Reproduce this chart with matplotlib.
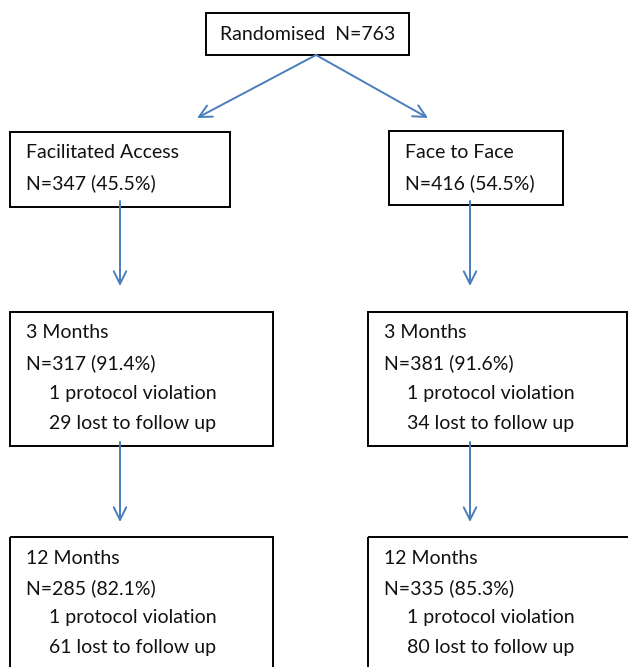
"""
CONSORT-style flow diagram: randomisation to 12 month follow up.
"""

import matplotlib
matplotlib.use("Agg")
import matplotlib.pyplot as plt
from matplotlib.patches import Rectangle

plt.rcParams["font.family"] = ["Lato", "DejaVu Sans"]

# --- data -------------------------------------------------------------
randomised_label = "Randomised  N=763"
arms = ["Facilitated Access", "Face to Face"]
arm_n = ["N=347 (45.5%)", "N=416 (54.5%)"]
stage_names = ["3 Months", "12 Months"]
stage_n = [["N=317 (91.4%)", "N=381 (91.6%)"],
           ["N=285 (82.1%)", "N=335 (85.3%)"]]
violations = [["1 protocol violation", "1 protocol violation"],
              ["1 protocol violation", "1 protocol violation"]]
lost = [["29 lost to follow up", "34 lost to follow up"],
        ["61 lost to follow up", "80 lost to follow up"]]

ARROW = "#4a7ebb"
FS = 14


def box(ax, x0, y0, x1, y1):
    ax.add_patch(Rectangle((x0, y0), x1 - x0, y1 - y0, fill=False,
                           edgecolor="black", linewidth=1.4, clip_on=False))


def arrow(ax, start, end):
    ax.annotate("", xy=end, xytext=start,
                arrowprops=dict(arrowstyle="->,head_length=0.9,head_width=0.45",
                                color=ARROW, linewidth=1.4,
                                shrinkA=0, shrinkB=0))


def main():
    fig = plt.figure(figsize=(6.28, 6.67), dpi=100)
    ax = fig.add_axes([0, 0, 1, 1])
    ax.set_xlim(0, 628)
    ax.set_ylim(667, 0)
    ax.axis("off")

    # top box
    box(ax, 206, 13, 409, 55)
    ax.text(308, 34, randomised_label, fontsize=FS, ha="center", va="center",
            color="#111111")
    arrow(ax, (316, 55), (197, 118))
    arrow(ax, (316, 55), (428, 118))

    # arm boxes
    arm_boxes = [(10, 132, 230, 207), (389, 131, 563, 205)]
    arm_x = [120, 470]
    for i, (x0, y0, x1, y1) in enumerate(arm_boxes):
        box(ax, x0, y0, x1, y1)
        ax.text(x0 + 16, 153, arms[i], fontsize=FS, va="center", color="#111111")
        ax.text(x0 + 16, 183, arm_n[i], fontsize=FS, va="center", color="#111111")
        arrow(ax, (arm_x[i], 201), (arm_x[i], 286))

    # follow-up boxes
    stage_tops = [312, 537]
    stage_bottoms = [446, 700]
    col_x = [(10, 273), (368, 627)]
    for s, name in enumerate(stage_names):
        top = stage_tops[s]
        for i in range(2):
            x0, x1 = col_x[i]
            if s == 1 and i == 1:
                x1 = 640
            box(ax, x0, top, x1, stage_bottoms[s])
            lines = [(name, 0), (stage_n[s][i], 0),
                     (violations[s][i], 23), (lost[s][i], 23)]
            for k, (txt, indent) in enumerate(lines):
                ax.text(x0 + 16 + indent, top + 21 + 30 * k, txt,
                        fontsize=FS, va="center", color="#111111")
            if s == 0:
                arrow(ax, (arm_x[i], 442), (arm_x[i], 522))

    fig.savefig("out.png", dpi=100, facecolor="white")
    plt.close(fig)


if __name__ == "__main__":
    main()
